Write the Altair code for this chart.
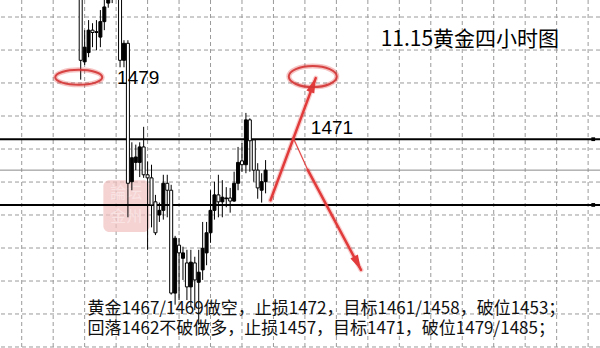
import altair as alt
import pandas as pd

# ---- candle data (bar index, price) ----
bar_index = list(range(48))
open_ = [1481.2, 1482.9, 1485.1, 1484.8, 1484.9, 1486.2, 1488.1, 1490.2, 1489.3, 1491.5,
         1481.2, 1483.4, 1465.3, 1468.6, 1468.7, 1470.0, 1466.4, 1466.0, 1462.5, 1458.9,
         1461.8, 1465.3, 1464.4, 1451.1, 1458.2, 1456.3, 1456.3, 1451.9, 1455.1, 1452.8,
         1453.8, 1456.9, 1458.9, 1461.8, 1463.8, 1462.9, 1463.5, 1463.4, 1463.0, 1465.3,
         1468.0, 1467.7, 1473.5, 1470.8, 1467.0, 1464.7, 1465.5, 1467.0]
high_ = [1490.5, 1485.1, 1486.4, 1486.0, 1486.4, 1487.7, 1489.4, 1490.8, 1491.0, 1492.0,
         1491.0, 1483.8, 1483.8, 1470.6, 1470.3, 1470.6, 1472.6, 1468.1, 1467.7, 1463.8,
         1462.8, 1466.4, 1466.4, 1465.1, 1458.5, 1458.2, 1457.1, 1456.7, 1456.7, 1455.8,
         1456.7, 1460.3, 1460.3, 1464.4, 1465.5, 1466.4, 1465.7, 1464.8, 1464.7, 1466.8,
         1470.0, 1470.5, 1474.4, 1473.7, 1470.9, 1467.9, 1466.6, 1468.3]
low_ = [1478.7, 1480.6, 1481.6, 1482.9, 1482.5, 1482.9, 1485.1, 1488.0, 1488.6, 1489.3,
        1480.3, 1480.3, 1460.9, 1464.4, 1467.0, 1466.1, 1466.0, 1456.7, 1459.6, 1458.6,
        1460.3, 1460.6, 1460.9, 1450.9, 1449.6, 1450.2, 1452.8, 1450.2, 1449.3, 1448.9,
        1447.0, 1452.8, 1454.7, 1457.6, 1460.6, 1460.9, 1460.9, 1462.2, 1461.5, 1462.9,
        1464.4, 1466.8, 1466.6, 1466.8, 1465.5, 1463.3, 1462.8, 1464.0]
close_ = [1489.6, 1481.0, 1482.2, 1485.1, 1484.8, 1484.2, 1486.2, 1488.6, 1490.6, 1490.0,
          1490.2, 1481.2, 1483.4, 1465.5, 1468.0, 1468.0, 1470.0, 1466.4, 1466.0, 1462.9,
          1461.2, 1461.8, 1465.3, 1464.4, 1451.1, 1457.3, 1455.6, 1455.0, 1451.9, 1455.0,
          1452.5, 1454.1, 1456.3, 1458.9, 1461.8, 1463.8, 1462.9, 1463.3, 1463.4, 1463.0,
          1465.3, 1468.2, 1467.7, 1473.5, 1470.9, 1467.0, 1464.4, 1465.5]

# ---- grid and levels ----
vgrid = [-15, -7, 1, 9, 17, 25, 33, 41, 49, 57, 65, 73, 81, 89, 97, 105, 113, 121, 129]
hgrid = [1486.8, 1482.53, 1478.27, 1474.0, 1469.73, 1465.46, 1461.2, 1456.93, 1452.66,
         1448.4, 1444.13]
thick_levels = [1471.0, 1462.5]
thin_levels = [1467.0]

# ---- annotations ----
label_x = [9.25, 58.5]
label_y = [1478.9, 1472.45]
label_text = ["1479", "1471"]

title_text = ["11.15黄金四小时图"]
title_x = [76.25]
title_y = [1483.8]

note_text = ["黄金1467/1469做空，止损1472，目标1461/1458，破位1453；",
             "回落1462不破做多，止损1457，目标1471，破位1479/1485；"]
note_x = [1.75, 1.75]
note_y = [1448.98, 1446.4]

arrow_x = [48.25, 54.0, 57.75]
arrow_y = [1463.1, 1471.2, 1467.0]
arrow_x2 = [59.75, 57.75, 71.25]
arrow_y2 = [1478.9, 1467.0, 1454.1]
arrow_w = [2.5, 1.0, 2.5]

head_x = [59.75, 71.25]
head_y = [1478.9, 1454.1]
head_angle = [21, 153]

ell_x = [-0.5, 59.0]
ell_y = [1479.0, 1479.1]

X = alt.Scale(domain=[-19.25, 130.75], nice=False, zero=False)
Y = alt.Scale(domain=[1444.0, 1489.0], nice=False, zero=False)


def ex(f):
    return alt.X(f, type="quantitative", scale=X, axis=None)


def ey(f):
    return alt.Y(f, type="quantitative", scale=Y, axis=None)


candles = pd.DataFrame({"i": bar_index, "open": open_, "high": high_,
                        "low": low_, "close": close_})

grid_v = alt.Chart(pd.DataFrame({"x": vgrid})).mark_rule(
    color="#9a9a9a", strokeDash=[4, 3], strokeWidth=1).encode(x=ex("x"))
grid_h = alt.Chart(pd.DataFrame({"y": hgrid})).mark_rule(
    color="#9a9a9a", strokeDash=[4, 3], strokeWidth=1).encode(y=ey("y"))

wm = pd.DataFrame({"x": [5.75], "x2": [17.5], "y": [1465.7], "y2": [1459.0]})
watermark = alt.Chart(wm).mark_rect(color="#f1c0c0", opacity=0.7, cornerRadius=6).encode(
    x=ex("x"), x2="x2", y=ey("y"), y2="y2")
wm_text = alt.Chart(pd.DataFrame({"x": [11.6, 11.6], "y": [1464.0, 1460.9],
                                  "t": ["論坛", "金州"]})).mark_text(
    font="Noto Sans CJK SC", fontSize=16, color="#fbe6e6", opacity=0.85,
    align="center", baseline="middle").encode(x=ex("x"), y=ey("y"), text="t:N")

thin_line = alt.Chart(pd.DataFrame({"y": thin_levels})).mark_rule(
    color="#8a8a8a", strokeWidth=1).encode(y=ey("y"))
thick_line = alt.Chart(pd.DataFrame({"y": thick_levels})).mark_rule(
    color="black", strokeWidth=2).encode(y=ey("y"))
end_marks = alt.Chart(pd.DataFrame({"y": thick_levels, "x": [130.3, 130.3]})).mark_square(
    color="black", size=14, opacity=1).encode(x=ex("x"), y=ey("y"))

wicks = alt.Chart(candles).mark_rule(color="black", strokeWidth=1, clip=True).encode(
    x=ex("i"), y=ey("low"), y2="high")
bodies = alt.Chart(candles).mark_bar(size=3, stroke="black", strokeWidth=1, clip=True).encode(
    x=ex("i"), y=ey("open"), y2="close",
    fill=alt.condition("datum.close > datum.open", alt.value("white"), alt.value("black")))

labels = alt.Chart(pd.DataFrame({"x": label_x, "y": label_y, "t": label_text})).mark_text(
    font="Liberation Sans", fontSize=19, color="black", align="left", baseline="middle"
).encode(x=ex("x"), y=ey("y"), text="t:N")

title = alt.Chart(pd.DataFrame({"x": title_x, "y": title_y, "t": title_text})).mark_text(
    font="Noto Sans CJK SC", fontSize=21, color="black", align="left", baseline="middle"
).encode(x=ex("x"), y=ey("y"), text="t:N")

notes = alt.Chart(pd.DataFrame({"x": note_x, "y": note_y, "t": note_text})).mark_text(
    font="Noto Sans CJK SC", fontSize=17, color="#111111", align="left", baseline="middle"
).encode(x=ex("x"), y=ey("y"), text="t:N")

RED = "#e23b3b"
arrows_df = pd.DataFrame({"x": arrow_x, "y": arrow_y, "x2": arrow_x2, "y2": arrow_y2,
                          "w": arrow_w})
arrow_glow = alt.Chart(arrows_df).mark_rule(color=RED, opacity=0.25, strokeCap="round").encode(
    x=ex("x"), y=ey("y"), x2="x2", y2="y2",
    strokeWidth=alt.StrokeWidth("w:Q", scale=alt.Scale(domain=[1, 2.5], range=[2, 5]), legend=None))
arrow_lines = alt.Chart(arrows_df).mark_rule(color=RED, strokeCap="round").encode(
    x=ex("x"), y=ey("y"), x2="x2", y2="y2",
    strokeWidth=alt.StrokeWidth("w:Q", scale=None, legend=None))

HEAD = "M 0 0 L 0.42 1.5 L -0.42 1.5 Z"
heads = alt.Chart(pd.DataFrame({"x": head_x, "y": head_y, "a": head_angle})).mark_point(
    shape=HEAD, filled=True, color=RED, opacity=1, size=400).encode(
    x=ex("x"), y=ey("y"), angle=alt.Angle("a:Q", scale=None))

ELL1 = "M -1 0 A 1 0.32 0 1 0 1 0 A 1 0.32 0 1 0 -1 0"
ELL2 = "M -1 0 A 1 0.44 0 1 0 1 0 A 1 0.44 0 1 0 -1 0"
ell1_df = pd.DataFrame({"x": ell_x[:1], "y": ell_y[:1]})
ell2_df = pd.DataFrame({"x": ell_x[1:], "y": ell_y[1:]})
ellipses = []
for df, shp, sz in [(ell1_df, ELL1, 2209), (ell2_df, ELL2, 2304)]:
    ellipses.append(alt.Chart(df).mark_point(shape=shp, filled=False, color=RED, opacity=0.3,
                                             strokeWidth=5, size=sz).encode(x=ex("x"), y=ey("y")))
    ellipses.append(alt.Chart(df).mark_point(shape=shp, filled=False, color="#d43535",
                                             opacity=0.9, strokeWidth=2, size=sz).encode(
        x=ex("x"), y=ey("y")))

chart = alt.layer(
    grid_v, grid_h, watermark, wm_text, thin_line, thick_line, end_marks,
    wicks, bodies, labels, title, notes, arrow_glow, arrow_lines, heads, *ellipses
).properties(
    width=600, height=348, padding=0, background="white",
    autosize=alt.AutoSizeParams(type="none")
).configure_view(strokeWidth=0)

chart.save("out.html", embed_options={"renderer": "svg", "actions": False})
